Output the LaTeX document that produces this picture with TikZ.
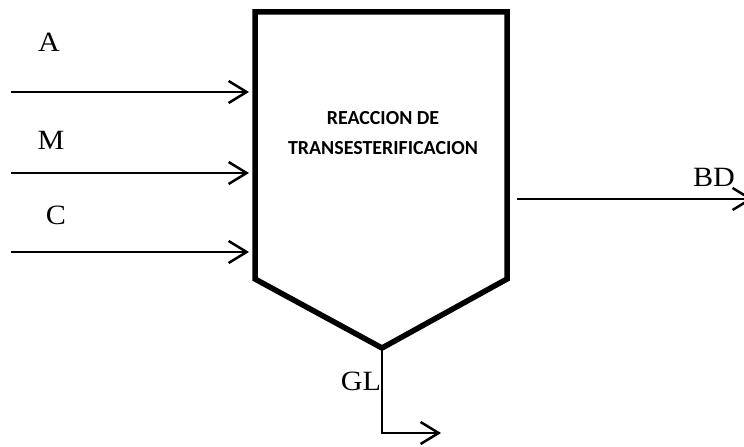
\documentclass[tikz,border=0pt]{standalone}
\usepackage{fontspec}
\usetikzlibrary{arrows.meta}
\newfontfamily\lblfont[FakeStretch=1.08]{Liberation Serif}
\newfontfamily\boxfont{Carlito}
\begin{document}
\begin{tikzpicture}[x=1bp,y=-1bp,
  vessel/.style={line width=5.5bp, line join=miter},
  flow/.style={line width=2.5bp, -{Straight Barb[length=18bp,width=22bp,line width=2.5bp]}},
  lbl/.style={font=\lblfont\fontsize{28}{30}\selectfont, inner sep=0pt, anchor=base},
  boxtxt/.style={font=\boxfont\bfseries\fontsize{20}{24}\selectfont, inner sep=0pt, anchor=base}]
\useasboundingbox (0,0) rectangle (744,447);
% vessel corners
\coordinate (tl) at (255,12);
\coordinate (tr) at (507,12);
\coordinate (br) at (507,279);
\coordinate (apex) at (382,348);
\coordinate (bl) at (255,279);
\draw[vessel] (tl) -- (tr) -- (br) -- (apex) -- (bl) -- cycle;
% text inside
\node[boxtxt] (t1) at (383,125) {REACCION DE};
\node[boxtxt] (t2) at (383,155) {TRANSESTERIFICACION};
% inputs
\coordinate (a0) at (11,92);  \coordinate (a1) at (249,92);
\coordinate (m0) at (11,173); \coordinate (m1) at (249,173);
\coordinate (c0) at (11,252); \coordinate (c1) at (249,252);
\draw[flow] (a0) -- (a1);
\draw[flow] (m0) -- (m1);
\draw[flow] (c0) -- (c1);
\node[lbl] (A) at (49,52) {A};
\node[lbl] (M) at (51,150) {M};
\node[lbl] (C) at (56,225) {C};
% output BD
\coordinate (b0) at (517,199); \coordinate (b1) at (753,199);
\draw[flow] (b0) -- (b1);
\node[lbl] (BD) at (714,187) {BD};
% output GL
\coordinate (g1) at (382,433); \coordinate (g2) at (441,433);
\draw[flow] (apex) -- (g1) -- (g2);
\node[lbl] (GL) at (361,390) {GL};
\end{tikzpicture}
\end{document}
